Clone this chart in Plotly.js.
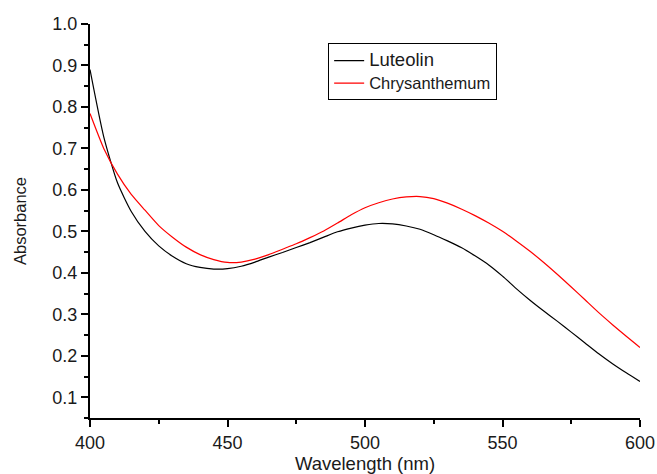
<!DOCTYPE html>
<html>
<head>
<meta charset="utf-8">
<script src="https://cdn.plot.ly/plotly-3.0.1.min.js"></script>
<style>html,body{margin:0;padding:0;background:#fff;}#chart{width:657px;height:474px;}</style>
</head>
<body>
<div id="chart"></div>
<script>
var wavelength = [400,405,410,415,420,425,430,435,440,445,450,455,460,465,470,475,480,485,490,495,500,505,510,515,520,525,530,535,540,545,550,555,560,565,570,575,580,585,590,595,600];
var luteolin = [0.890,0.728,0.617,0.548,0.500,0.465,0.440,0.422,0.413,0.409,0.410,0.416,0.426,0.438,0.449,0.461,0.473,0.486,0.499,0.508,0.515,0.519,0.518,0.513,0.505,0.492,0.477,0.461,0.441,0.419,0.392,0.362,0.334,0.308,0.283,0.257,0.231,0.205,0.181,0.159,0.138];
var chrysanthemum = [0.784,0.700,0.638,0.589,0.551,0.514,0.486,0.462,0.444,0.432,0.425,0.426,0.433,0.444,0.457,0.470,0.485,0.501,0.520,0.540,0.557,0.569,0.578,0.583,0.584,0.579,0.568,0.554,0.538,0.520,0.500,0.477,0.452,0.425,0.396,0.366,0.335,0.304,0.275,0.247,0.220];
var seriesNames = ['Luteolin', 'Chrysanthemum'];
var xTicks = [400,450,500,550,600];
var yTicks = [0.1,0.2,0.3,0.4,0.5,0.6,0.7,0.8,0.9,1.0];

var font = 'Liberation Sans, Arial, Helvetica, sans-serif';
var traces = [
  {x: wavelength, y: luteolin, type: 'scatter', mode: 'lines',
   name: '<span style="font-size:18.5px">' + seriesNames[0] + '</span>',
   line: {color: '#000000', width: 1.2, shape: 'spline', smoothing: 0.6}},
  {x: wavelength, y: chrysanthemum, type: 'scatter', mode: 'lines',
   name: '<span style="font-size:16.5px">' + seriesNames[1] + '</span>',
   line: {color: '#ff0000', width: 1.2, shape: 'spline', smoothing: 0.6}}
];
var layout = {
  width: 657, height: 474,
  margin: {l: 90, r: 17, t: 24, b: 56},
  paper_bgcolor: '#ffffff', plot_bgcolor: '#ffffff',
  font: {family: font, color: '#1a1a1a', size: 17},
  showlegend: true,
  legend: {x: 0.433, y: 0.951, xanchor: 'left', yanchor: 'top',
           bordercolor: '#000000', borderwidth: 1, bgcolor: '#ffffff',
           font: {family: font, size: 15, color: '#1a1a1a'}, tracegroupgap: 0,
           itemwidth: 30},
  xaxis: {range: [400, 600], tickvals: xTicks, ticktext: xTicks.map(String),
          showgrid: false, zeroline: false, showline: true, linecolor: '#000', linewidth: 2,
          ticks: 'outside', ticklen: 7, tickwidth: 2, tickcolor: '#000',
          tickfont: {family: font, size: 18, color: '#1a1a1a'},
          minor: {dtick: 25, tick0: 400, ticks: 'outside', ticklen: 4, tickwidth: 2, tickcolor: '#000', showgrid: false},
          title: {text: 'Wavelength (nm)', font: {family: font, size: 18.5, color: '#1a1a1a'}, standoff: 11}},
  yaxis: {range: [0.05, 1.0], tickvals: yTicks, ticktext: yTicks.map(function(v){return v.toFixed(1);}),
          showgrid: false, zeroline: false, showline: true, linecolor: '#000', linewidth: 2,
          ticks: 'outside', ticklen: 7, tickwidth: 2, tickcolor: '#000',
          tickfont: {family: font, size: 18, color: '#1a1a1a'},
          minor: {tickvals: [0.05,0.15,0.25,0.35,0.45,0.55,0.65,0.75,0.85,0.95], ticks: 'outside', ticklen: 4, tickwidth: 2, tickcolor: '#000', showgrid: false},
          title: {text: 'Absorbance', font: {family: font, size: 16.5, color: '#1a1a1a'}, standoff: 22}}
};
Plotly.newPlot('chart', traces, layout, {displayModeBar: false, staticPlot: true});
</script>
</body>
</html>
